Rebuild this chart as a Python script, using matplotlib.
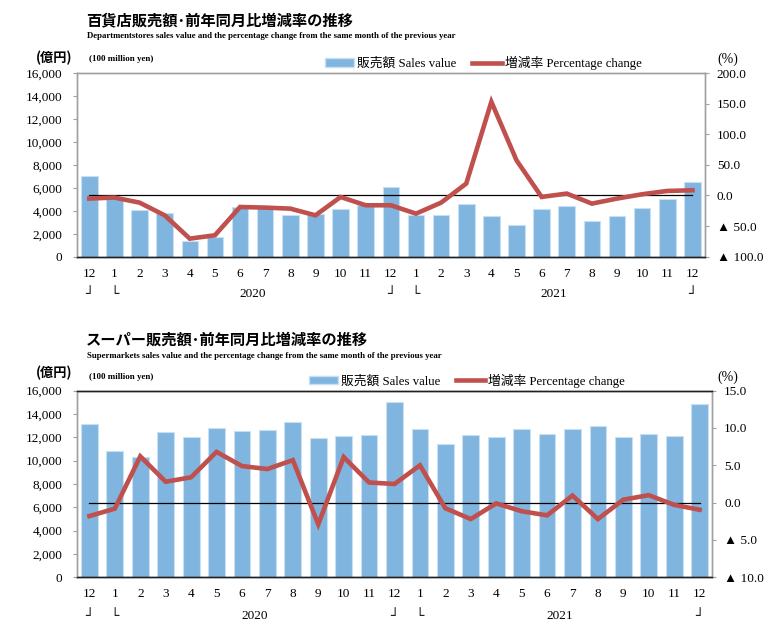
import matplotlib
matplotlib.use("Agg")
import matplotlib.pyplot as plt
from matplotlib.patches import Patch
from matplotlib.lines import Line2D
from matplotlib.ticker import FuncFormatter
import matplotlib.transforms as mtrans

# -----------------------------
# Data (Dec 2019 .. Dec 2021)
# -----------------------------
months = ["12", "1", "2", "3", "4", "5", "6", "7", "8", "9", "10", "11", "12",
          "1", "2", "3", "4", "5", "6", "7", "8", "9", "10", "11", "12"]

dept_sales = [7070, 5150, 4070, 3790, 1400, 1750, 4300, 4250, 3640, 3730, 4160, 4500, 6050,
              3640, 3610, 4570, 3550, 2790, 4130, 4450, 3115, 3550, 4280, 5010, 6520]
dept_pct = [-5.0, -3.4, -11.7, -32.4, -70.5, -65.0, -18.8, -19.8, -21.5, -32.4, -2.5, -16.0, -16.0,
            -29.7, -11.7, 19.4, 153.0, 57.5, -2.4, 3.1, -13.3, -5.1, 2.0, 7.4, 8.5]

super_sales = [13170, 10860, 10340, 12460, 12030, 12830, 12550, 12600, 13290, 11970, 12140, 12180, 15000,
               12690, 11430, 12200, 12000, 12690, 12320, 12690, 13000, 12030, 12260, 12120, 14860]
super_pct = [-1.8, -0.8, 6.2, 2.8, 3.4, 6.8, 4.9, 4.5, 5.7, -2.9, 6.1, 2.7, 2.5,
             5.0, -0.75, -2.2, -0.1, -1.15, -1.7, 0.95, -2.2, 0.4, 1.0, -0.3, -0.95]

BAR_COLOR = "#7FB5DF"
BAR_EDGE = "#C9E0F2"
LINE_COLOR = "#C0504D"
SERIF = ["Liberation Serif", "DejaVu Serif"]
JP = ["Noto Sans CJK JP", "DejaVu Sans"]
MIXED = ["Liberation Serif", "Noto Sans CJK JP", "DejaVu Sans"]
TRI = ["Liberation Serif", "DejaVu Sans"]


def pct_fmt(v, pos):
    if abs(v) < 1e-9:
        return "0.0"
    if v < 0:
        return "\u25b2 %.1f" % (-v)
    return "%.1f" % v


def draw_panel(fig, rect, sales, pct, pct_lim, pct_step, top_color, legend_x,
               title, subtitle, ypix):
    ax = fig.add_axes(rect)
    x = list(range(len(months)))
    ax.bar(x, sales, width=0.66, color=BAR_COLOR, edgecolor=BAR_EDGE, linewidth=0.8, zorder=2)
    ax.set_xlim(-0.5, len(months) - 0.5)
    ax.set_ylim(0, 16000)
    ax.set_yticks(range(0, 16001, 2000))
    ax.yaxis.set_major_formatter(FuncFormatter(lambda v, p: f"{int(v):,}"))
    ax.set_xticks(x)
    ax.set_xticklabels(months)
    ax.tick_params(axis="x", length=0, pad=8, labelsize=9.5)
    ax.tick_params(axis="y", length=3, width=0.8, color="#A0A0A0", pad=7.5, labelsize=9.5)
    for lab in ax.get_xticklabels() + ax.get_yticklabels():
        lab.set_family(SERIF)

    ax2 = ax.twinx()
    ax2.set_ylim(*pct_lim)
    ticks = []
    v = pct_lim[0]
    while v <= pct_lim[1] + 1e-9:
        ticks.append(v)
        v += pct_step
    ax2.set_yticks(ticks)
    ax2.yaxis.set_major_formatter(FuncFormatter(pct_fmt))
    ax2.tick_params(axis="y", length=3, width=0.8, color="#A0A0A0", pad=5.5, labelsize=9.5)
    for lab in ax2.get_yticklabels():
        lab.set_family(TRI)
    ax2.plot([x[0], x[-1]], [0, 0], color="black", linewidth=0.9, zorder=3)
    ax2.plot(x, pct, color=LINE_COLOR, linewidth=3.3, solid_joinstyle="miter", zorder=4)

    for a in (ax, ax2):
        a.spines["left"].set_color("#A0A0A0")
        a.spines["right"].set_color("#A0A0A0")
        a.spines["top"].set_color(top_color)
        a.spines["bottom"].set_color("#202020")
        for s in a.spines.values():
            s.set_linewidth(1.0)

    # legend
    handles = [Patch(facecolor=BAR_COLOR, edgecolor=BAR_EDGE),
               Line2D([0], [0], color=LINE_COLOR, linewidth=3.3)]
    labels = ["販売額 Sales value", "増減率 Percentage change"]
    ax2.legend(handles, labels, loc="center", bbox_to_anchor=(legend_x, 1.055),
               ncol=2, frameon=False, handlelength=2.3, handleheight=0.6,
               handletextpad=0.25, columnspacing=1.2, borderpad=0,
               prop={"family": MIXED, "size": 9.2})

    # month group markers
    trans = mtrans.blended_transform_factory(ax.transData, ax.transAxes)
    yb = -0.205
    for pos, ch in [(0, "\u2518"), (1, "\u2514"), (12, "\u2518"), (13, "\u2514"), (24, "\u2518")]:
        ax.text(pos, yb, ch, transform=trans, ha="center", va="center",
                fontsize=10, family=["DejaVu Sans"], color="#202020")
    ax.text(6.5, yb, "2020", transform=trans, ha="center", va="center",
            fontsize=9.5, family=SERIF)
    ax.text(18.5, yb, "2021", transform=trans, ha="center", va="center",
            fontsize=9.5, family=SERIF)

    # titles and unit labels (pixel positions converted to figure fraction)
    W, H = 782.0, 629.0
    fig.text(86 / W, 1 - ypix[0] / H, title, ha="left", va="center",
             fontsize=11, fontweight="bold", family=JP)
    fig.text(87 / W, 1 - ypix[1] / H, subtitle, ha="left", va="center",
             fontsize=6.3, fontweight="bold", family=SERIF)
    fig.text(72 / W, 1 - ypix[2] / H, "(億円)", ha="right", va="center",
             fontsize=9.5, fontweight="bold", family=JP)
    fig.text(89 / W, 1 - ypix[3] / H, "(100 million yen)", ha="left", va="center",
             fontsize=6.5, fontweight="bold", family=SERIF)
    fig.text(728 / W, 1 - ypix[3] / H, "(%)", ha="center", va="center",
             fontsize=10, family=SERIF)
    return ax, ax2


fig = plt.figure(figsize=(7.82, 6.29), dpi=100)
fig.patch.set_facecolor("white")

draw_panel(fig, [0.0981, 0.5919, 0.8034, 0.2920], dept_sales, dept_pct,
           (-100, 200), 50, "#A0A0A0", 0.647,
           "百貨店販売額･前年同月比増減率の推移",
           "Departmentstores sales value and the percentage change from the same month of the previous year",
           (20, 36, 58, 59))

draw_panel(fig, [0.0981, 0.0822, 0.8128, 0.2967], super_sales, super_pct,
           (-10, 15), 5, "#202020", 0.614,
           "スーパー販売額･前年同月比増減率の推移",
           "Supermarkets sales value and the percentage change from the same month of the previous year",
           (340, 356, 373, 377))

fig.savefig("out.png", dpi=100)
